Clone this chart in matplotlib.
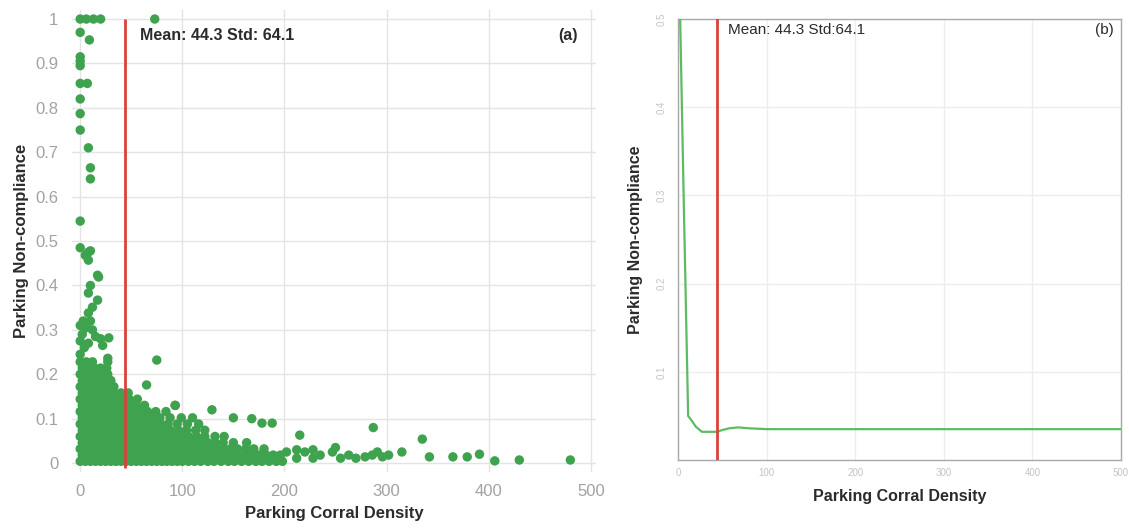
import matplotlib
matplotlib.use("Agg")
import matplotlib.pyplot as plt

plt.rcParams['font.family'] = ['Liberation Sans', 'DejaVu Sans']

# ---------------- data: panel (a) scatter ----------------
# dense core, written row by row (density values, then non-compliance values)
core_x = [
    0, 5, 10, 15, 20, 25, 30, 35, 40, 45, 50, 55, 60, 65, 70, 75, 80, 85, 90, 95, 100, 106, 112, 118, 125, 131, 138, 145, 151, 158, 165, 172, 178, 185, 192, 198,
    2, 7, 12, 17, 22, 27, 32, 37, 42, 47, 52, 57, 62, 67, 72, 77, 82, 87, 92, 97, 103, 109, 115, 121, 128, 134, 141, 148, 155, 161, 168, 175, 182, 189, 196,
    0, 5, 10, 15, 20, 25, 30, 35, 40, 45, 50, 55, 60, 65, 70, 75, 80, 85, 90, 96, 102, 108, 114, 120, 127, 133, 140, 147, 154, 162, 170, 180,
    2, 7, 12, 17, 22, 27, 32, 37, 42, 47, 52, 57, 62, 67, 72, 77, 82, 87, 93, 99, 105, 111, 118, 125, 132, 140, 150, 163,
    0, 5, 10, 15, 20, 25, 30, 35, 40, 45, 50, 55, 60, 65, 70, 75, 80, 86, 92, 99, 106, 114, 122, 132, 141,
    2, 7, 12, 17, 22, 27, 32, 37, 42, 47, 52, 57, 62, 68, 74, 80, 88, 96, 104, 113, 122,
    0, 5, 10, 15, 20, 25, 30, 35, 40, 45, 50, 55, 60, 66, 72, 79, 86, 95, 105, 116,
    2, 7, 12, 17, 22, 27, 32, 37, 42, 47, 52, 58, 64, 70, 78, 88, 99, 110, 150,
    0, 5, 10, 15, 20, 25, 30, 35, 40, 45, 51, 58, 66, 74, 84,
    2, 7, 12, 17, 22, 27, 32, 37, 42, 48, 55, 63, 93,
    0, 5, 10, 15, 20, 25, 30, 35, 41, 48, 56,
    2, 7, 12, 17, 22, 27, 33, 40, 47,
    0, 5, 10, 15, 20, 26, 33,
    2, 7, 12, 17, 23, 30,
    0, 5, 10, 15, 21, 27,
    2, 8, 14, 20, 26,
    0, 6, 12, 27,
]
core_y = (
    [0.004] * 36 + [0.018] * 35 + [0.032] * 32 + [0.046] * 28 + [0.060] * 25 +
    [0.074] * 21 + [0.088] * 20 + [0.102] * 19 + [0.116] * 15 + [0.130] * 13 +
    [0.144] * 11 + [0.158] * 9 + [0.172] * 7 + [0.186] * 6 + [0.200] * 6 +
    [0.214] * 5 + [0.228] * 4
)

# sparse high non-compliance points at low density
high_x = [0, 4, 0, 8, 2, 0, 6, 12, 15, 20, 28, 22, 3, 10, 8, 12, 17, 8, 10, 17, 18, 8, 8, 0, 10, 5,
          0, 10, 10, 8, 0, 0, 0, 0, 7, 0, 0, 0, 9, 0, 0, 6, 13, 20, 73,
          27, 75, 65, 93, 129, 168, 178, 188, 215, 287, 335]
high_y = [0.245, 0.26, 0.275, 0.27, 0.29, 0.31, 0.305, 0.30, 0.285, 0.28, 0.282, 0.265, 0.32, 0.32,
          0.338, 0.351, 0.367, 0.383, 0.40, 0.423, 0.419, 0.457, 0.475, 0.485, 0.478, 0.468,
          0.545, 0.64, 0.665, 0.71, 0.75, 0.787, 0.82, 0.855, 0.855, 0.895, 0.905, 0.915, 0.953, 0.97,
          1.0, 1.0, 1.0, 1.0, 1.0,
          0.236, 0.232, 0.176, 0.13, 0.12, 0.10, 0.09, 0.09, 0.063, 0.08, 0.054]

# long tail of high-density blocks
tail_x = [202, 212, 212, 220, 228, 228, 235, 247, 250, 255, 263, 270, 279, 286, 291, 296, 302, 315, 342, 365, 379, 391, 406, 430, 480]
tail_y = [0.025, 0.011, 0.03, 0.025, 0.011, 0.03, 0.018, 0.025, 0.035, 0.011, 0.018, 0.011, 0.014, 0.018, 0.025, 0.014, 0.018, 0.025, 0.014, 0.014, 0.014, 0.02, 0.005, 0.007, 0.007]

# ---------------- data: panel (b) fitted curve ----------------
curve_x = [1.8, 2.5, 7, 11.5, 16, 20, 27, 35, 44, 50, 58, 68, 80, 100, 150, 200, 300, 400, 500]
curve_y = [0.56, 0.50, 0.27, 0.050, 0.044, 0.038, 0.032, 0.032, 0.032, 0.034, 0.036, 0.037, 0.036, 0.035, 0.035, 0.035, 0.035, 0.035, 0.035]

mean_val = 44.3
x_ticks = [0, 100, 200, 300, 400, 500]
ya_ticks = [0, 0.1, 0.2, 0.3, 0.4, 0.5, 0.6, 0.7, 0.8, 0.9, 1.0]
ya_labels = ["0", "0.1", "0.2", "0.3", "0.4", "0.5", "0.6", "0.7", "0.8", "0.9", "1"]
yb_ticks = [0.1, 0.2, 0.3, 0.4, 0.5]
yb_labels = ["0.1", "0.2", "0.3", "0.4", "0.5"]

GREEN = '#3fa24e'
LINE_GREEN = '#5dbb63'
RED = '#d8423b'
TXT = '#2b2b2b'

fig = plt.figure(figsize=(11.29, 5.29), dpi=100)

# ---------------- panel (a) ----------------
ax = fig.add_axes([0.0638, 0.1078, 0.464, 0.873])
ax.set_xlim(-8, 505)
ax.set_ylim(-0.02, 1.02)
for s in ax.spines.values():
    s.set_visible(False)
ax.set_xticks(x_ticks)
ax.set_yticks(ya_ticks)
ax.set_yticklabels(ya_labels)
ax.tick_params(length=0, colors='#a2a2a2', labelsize=12)
ax.tick_params(axis='y', pad=10)
ax.tick_params(axis='x', pad=9)
ax.grid(True, color='#e4e4e4', lw=1)
ax.set_axisbelow(True)
ax.scatter(core_x + high_x + tail_x, core_y + high_y + tail_y, s=46, color=GREEN,
           edgecolors='none', zorder=3)
ax.vlines(mean_val, -0.012, 1.0, color=RED, lw=2, zorder=4)
ax.text(59, 0.962, "Mean: 44.3 Std: 64.1", fontsize=11.5, fontweight='bold', color=TXT,
        va='center', ha='left', zorder=5)
ax.text(487, 0.962, "(a)", fontsize=11.5, fontweight='bold', color=TXT, va='center', ha='right')
ax.set_xlabel("Parking Corral Density", fontsize=12, fontweight='bold', color=TXT, labelpad=5)
ax.set_ylabel("Parking Non-compliance", fontsize=12, fontweight='bold', color=TXT, labelpad=4)

# ---------------- panel (b) ----------------
bx = fig.add_axes([0.6005, 0.1304, 0.3924, 0.8336])
bx.set_xlim(0, 500)
bx.set_ylim(0, 0.5)
for s in bx.spines.values():
    s.set_color('#a8a8a8')
    s.set_linewidth(1)
bx.set_xticks(x_ticks)
bx.set_yticks(yb_ticks)
bx.set_yticklabels(yb_labels, rotation=90, va='center')
bx.tick_params(length=0, colors='#c4c4c4', labelsize=7)
bx.tick_params(axis='y', pad=8)
bx.tick_params(axis='x', pad=6)
bx.grid(True, color='#ececec', lw=0.9)
bx.set_axisbelow(True)
bx.plot(curve_x, curve_y, color=LINE_GREEN, lw=1.6, zorder=3)
bx.axvline(mean_val, color=RED, lw=2, zorder=4)
bx.text(56, 0.488, "Mean: 44.3 Std:64.1", fontsize=11, color=TXT, va='center', ha='left')
bx.text(492, 0.488, "(b)", fontsize=11, color=TXT, va='center', ha='right')
bx.set_xlabel("Parking Corral Density", fontsize=11.5, fontweight='bold', color=TXT, labelpad=8)
bx.set_ylabel("Parking Non-compliance", fontsize=11.5, fontweight='bold', color=TXT, labelpad=10)

fig.savefig("out.png", dpi=100, facecolor='white')
